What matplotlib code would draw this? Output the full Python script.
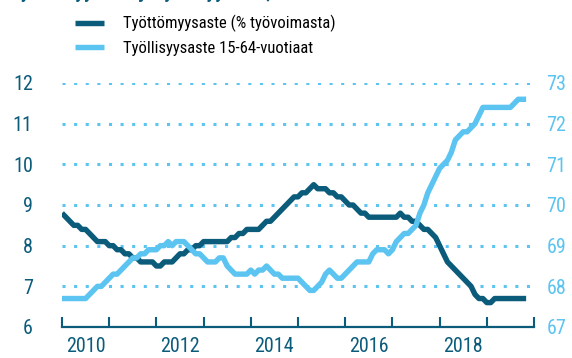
import matplotlib
matplotlib.use("Agg")
import matplotlib.pyplot as plt
from matplotlib import font_manager
import numpy as np

# Monthly trend series, January 2010 onwards
start_year = 2010
unemployment = [
    8.8, 8.7, 8.6, 8.5, 8.5, 8.4, 8.4, 8.3, 8.2, 8.1, 8.1, 8.1,
    8.0, 8.0, 7.9, 7.9, 7.8, 7.8, 7.7, 7.7, 7.6, 7.6, 7.6, 7.6,
    7.5, 7.5, 7.6, 7.6, 7.6, 7.7, 7.8, 7.8, 7.9, 7.9, 8.0, 8.0,
    8.1, 8.1, 8.1, 8.1, 8.1, 8.1, 8.1, 8.2, 8.2, 8.3, 8.3, 8.4,
    8.4, 8.4, 8.4, 8.5, 8.6, 8.6, 8.7, 8.8, 8.9, 9.0, 9.1, 9.2,
    9.2, 9.3, 9.3, 9.4, 9.5, 9.4, 9.4, 9.4, 9.3, 9.3, 9.2, 9.2,
    9.1, 9.0, 9.0, 8.9, 8.8, 8.8, 8.7, 8.7, 8.7, 8.7, 8.7, 8.7,
    8.7, 8.7, 8.8, 8.7, 8.7, 8.6, 8.6, 8.5, 8.4, 8.4, 8.3, 8.2,
    8.0, 7.8, 7.6, 7.5, 7.4, 7.3, 7.2, 7.1, 7.0, 6.8, 6.7, 6.7,
    6.6, 6.6, 6.7, 6.7, 6.7, 6.7, 6.7, 6.7, 6.7, 6.7, 6.7,
]
employment = [
    67.7, 67.7, 67.7, 67.7, 67.7, 67.7, 67.7, 67.8, 67.9, 68.0, 68.0, 68.1,
    68.2, 68.3, 68.3, 68.4, 68.5, 68.6, 68.7, 68.7, 68.8, 68.8, 68.9, 68.9,
    68.9, 69.0, 69.0, 69.1, 69.0, 69.1, 69.1, 69.1, 69.0, 68.9, 68.8, 68.8,
    68.7, 68.6, 68.6, 68.6, 68.7, 68.7, 68.5, 68.4, 68.3, 68.3, 68.3, 68.3,
    68.4, 68.3, 68.4, 68.4, 68.5, 68.4, 68.3, 68.3, 68.2, 68.2, 68.2, 68.2,
    68.2, 68.1, 68.0, 67.9, 67.9, 68.0, 68.1, 68.3, 68.4, 68.3, 68.2, 68.2,
    68.3, 68.4, 68.5, 68.6, 68.6, 68.6, 68.6, 68.8, 68.9, 68.9, 68.9, 68.8,
    68.9, 69.1, 69.2, 69.3, 69.3, 69.4, 69.5, 69.8, 70.0, 70.3, 70.5, 70.7,
    70.9, 71.0, 71.1, 71.3, 71.6, 71.7, 71.8, 71.8, 71.9, 72.0, 72.2, 72.4,
    72.4, 72.4, 72.4, 72.4, 72.4, 72.4, 72.4, 72.5, 72.6, 72.6, 72.6,
]
series_labels = ["Työttömyysaste (% työvoimasta)", "Työllisyysaste 15-64-vuotiaat"]
title = "Työttömyysaste ja työllisyysaste, trendit"
year_labels = [2010, 2012, 2014, 2016, 2018]
left_ticks = [6, 7, 8, 9, 10, 11, 12]
right_ticks = [67, 68, 69, 70, 71, 72, 73]

DARK = "#0b5b7b"
LIGHT = "#5bc4f0"


def pick_font(*names):
    for n in names:
        try:
            font_manager.findfont(n, fallback_to_default=False)
            return n
        except Exception:
            continue
    return "DejaVu Sans"


FONT = pick_font("Liberation Sans Narrow", "Roboto Condensed", "Roboto")
plt.rcParams["font.family"] = [FONT, "DejaVu Sans"]

W, H = 572, 358
fig = plt.figure(figsize=(W / 100, H / 100), dpi=100)
ax = fig.add_axes([62 / W, (H - 327) / H, (534 - 62) / W, (327 - 83) / H])
ax2 = ax.twinx()

t = start_year + np.arange(len(unemployment)) / 12.0
l1, = ax.plot(t, unemployment, color=DARK, lw=3.9, solid_joinstyle="round",
              solid_capstyle="butt", label=series_labels[0])
l2, = ax2.plot(t, employment, color=LIGHT, lw=3.9, solid_joinstyle="round",
               solid_capstyle="butt", label=series_labels[1])

ax.set_xlim(2010, 2020)
ax.set_ylim(6, 12)
ax2.set_ylim(67, 73)

# dotted horizontal guides
for v in left_ticks[1:]:
    ax.plot([2010, 2019.92], [v, v], color=LIGHT, lw=2.2,
            linestyle=(0, (1, 2.8)), zorder=0.5)

for a in (ax, ax2):
    for s in ("top", "left", "right"):
        a.spines[s].set_visible(False)
ax2.spines["bottom"].set_visible(False)
ax.spines["bottom"].set_color(DARK)
ax.spines["bottom"].set_linewidth(1.6)

ax.set_xticks(np.arange(2010, 2021))
ax.set_xticklabels([])
ax.tick_params(axis="x", which="major", direction="in", length=7.5, width=1.5,
               color=DARK)
ax.set_xticks([y + 0.5 for y in year_labels], minor=True)
ax.set_xticklabels([str(y) for y in year_labels], minor=True)
ax.tick_params(axis="x", which="minor", length=0, pad=7, labelsize=14.5,
               labelcolor=DARK)

ax.set_yticks(left_ticks)
ax.set_yticklabels([str(v) for v in left_ticks])
ax.tick_params(axis="y", length=0, pad=21, labelsize=14.5, labelcolor=DARK)
ax2.set_yticks(right_ticks)
ax2.set_yticklabels([str(v) for v in right_ticks])
ax2.tick_params(axis="y", length=0, pad=9, labelsize=14.5, labelcolor=LIGHT)

leg = fig.legend(handles=[l1, l2], loc="upper left",
                 bbox_to_anchor=(75 / W, 1 - 15 / H), frameon=False,
                 fontsize=12, handlelength=1.75, handletextpad=1.15,
                 labelspacing=0.5, borderpad=0, borderaxespad=0)

# heading sits above the canvas edge; only its lowest strokes show
fig.text(10 / W, 1 + 1.5 / H, title, color=DARK, fontsize=14,
         fontweight="bold", ha="left", va="baseline")

fig.savefig("out.png", dpi=100)
